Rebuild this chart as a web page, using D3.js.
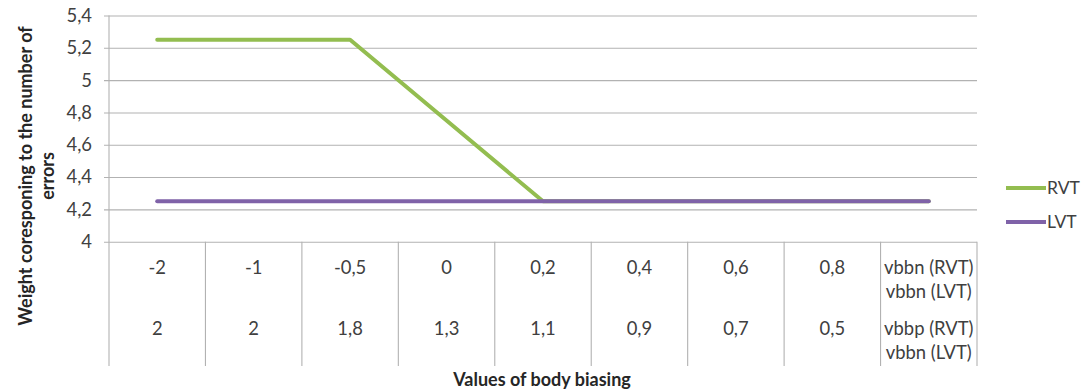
<!DOCTYPE html>
<html>
<head>
<meta charset="utf-8">
<script src="https://cdn.jsdelivr.net/npm/d3@7"></script>
<style>
  html, body { margin: 0; padding: 0; background: #fff; }
  svg { display: block; }
  text { font-family: Lato, "Open Sans", sans-serif; fill: #404040; }
</style>
</head>
<body>
<svg id="chart"></svg>
<script>
// Category rows of the data table beneath the plot
const vbbnRow = ["-2", "-1", "-0,5", "0", "0,2", "0,4", "0,6", "0,8"];
const vbbpRow = ["2", "2", "1,8", "1,3", "1,1", "0,9", "0,7", "0,5"];
const lastRow1 = ["vbbn (RVT)", "vbbn (LVT)"];
const lastRow2 = ["vbbp (RVT)", "vbbn (LVT)"];

// Series values, one per category column
const rvt = [5.25, 5.25, 5.25, 4.75, 4.25, 4.25, 4.25, 4.25, 4.25];
const lvt = [4.25, 4.25, 4.25, 4.25, 4.25, 4.25, 4.25, 4.25, 4.25];

// Y axis ticks
const yTicks = [4, 4.2, 4.4, 4.6, 4.8, 5, 5.2, 5.4];

const seriesNames = ["RVT", "LVT"];
const seriesColors = ["#93bd50", "#7f62a8"];

const W = 1081, H = 391;
const fs = 18.4;        // body text size
const fsTitle = 18;     // axis title size

const svg = d3.select("#chart").attr("width", W).attr("height", H);

const m = { left: 109, right: 977, top: 15.5, bottom: 241.7, table: 366 };
const gridColor = "#b2b2b2";

const idx = d3.range(rvt.length);
const x = d3.scaleBand().domain(idx).range([m.left, m.right]).padding(0);
const y = d3.scaleLinear().domain([4, 5.4]).range([m.bottom, m.top]);

const fmt = d3.formatLocale({ decimal: ",", thousands: " ", grouping: [3], currency: ["", ""] }).format("~g");

// Gridlines and y axis
const yAxis = d3.axisLeft(y).tickValues(yTicks).tickFormat(fmt).tickSize(-(m.right - m.left));
const gy = svg.append("g").attr("transform", `translate(${m.left},0)`).call(yAxis);
gy.select(".domain").remove();
gy.selectAll(".tick line").attr("x1", -5).attr("stroke", gridColor).attr("stroke-width", 1.1);
gy.selectAll(".tick text").attr("font-size", fs).style("fill", "#404040")
  .style("font-family", "Lato, 'Open Sans', sans-serif").attr("x", -17);

// Vertical axis line through the plot and the table
svg.append("line").attr("x1", m.left).attr("x2", m.left).attr("y1", m.top).attr("y2", m.table)
  .attr("stroke", gridColor).attr("stroke-width", 1.1);

// Table column dividers
const bounds = idx.map(i => x(i) + x.bandwidth());
svg.selectAll("line.col").data(bounds).join("line").attr("class", "col")
  .attr("x1", d => d).attr("x2", d => d).attr("y1", m.bottom).attr("y2", m.table)
  .attr("stroke", gridColor).attr("stroke-width", 1.1);

// Table values
const cx = i => x(i) + x.bandwidth() / 2;
svg.selectAll("text.r1").data(vbbnRow).join("text").attr("class", "r1")
  .attr("x", (d, i) => cx(i)).attr("y", 268).attr("dy", "0.35em")
  .attr("text-anchor", "middle").attr("font-size", fs).text(d => d);
svg.selectAll("text.r2").data(vbbpRow).join("text").attr("class", "r2")
  .attr("x", (d, i) => cx(i)).attr("y", 329).attr("dy", "0.35em")
  .attr("text-anchor", "middle").attr("font-size", fs).text(d => d);
const lastI = idx[idx.length - 1];
svg.selectAll("text.l1").data(lastRow1).join("text").attr("class", "l1")
  .attr("x", cx(lastI)).attr("y", (d, i) => 268 + i * 24).attr("dy", "0.35em")
  .attr("text-anchor", "middle").attr("font-size", fs).text(d => d);
svg.selectAll("text.l2").data(lastRow2).join("text").attr("class", "l2")
  .attr("x", cx(lastI)).attr("y", (d, i) => 329 + i * 24).attr("dy", "0.35em")
  .attr("text-anchor", "middle").attr("font-size", fs).text(d => d);

// Series lines
const line = d3.line().x((d, i) => cx(i)).y(d => y(d));
[rvt, lvt].forEach((s, k) => {
  svg.append("path").datum(s).attr("d", line)
    .attr("fill", "none").attr("stroke", seriesColors[k]).attr("stroke-width", 4)
    .attr("stroke-linecap", "round").attr("stroke-linejoin", "round");
});

// Legend
const legY = [188, 222];
seriesNames.forEach((n, k) => {
  svg.append("line").attr("x1", 1006).attr("x2", 1046).attr("y1", legY[k]).attr("y2", legY[k])
    .attr("stroke", seriesColors[k]).attr("stroke-width", 4);
  svg.append("text").attr("x", 1047).attr("y", legY[k]).attr("dy", "0.35em")
    .attr("font-size", 17.5).text(n);
});

// Axis titles
svg.append("text").attr("x", 542).attr("y", 386)
  .attr("text-anchor", "middle").attr("font-size", fsTitle).attr("font-weight", "bold")
  .style("fill", "#262626").text("Values of body biasing");
const yt = svg.append("text")
  .attr("transform", `translate(32,176) rotate(-90)`)
  .attr("text-anchor", "middle").attr("font-size", fsTitle).attr("font-weight", "bold")
  .style("fill", "#262626");
yt.append("tspan").attr("x", 0).attr("y", 0).text("Weight coresponing to the number of");
yt.append("tspan").attr("x", 0).attr("y", 22).text("errors");
</script>
</body>
</html>
